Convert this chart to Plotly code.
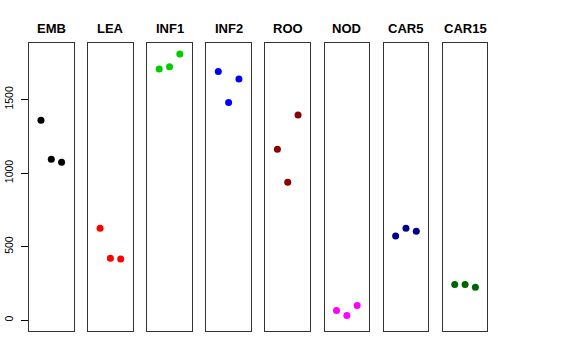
import plotly.graph_objects as go

groups = ["EMB", "LEA", "INF1", "INF2", "ROO", "NOD", "CAR5", "CAR15"]
colors = ["#000000", "#FF0000", "#00CD00", "#0000FF", "#8B0000", "#FF00FF", "#00008B", "#006400"]
replicate = [1, 2, 3]
emb = [1359, 1094, 1074]
lea = [625, 421, 417]
inf1 = [1708, 1722, 1810]
inf2 = [1690, 1480, 1640]
roo = [1162, 938, 1395]
nod = [66, 32, 100]
car5 = [573, 625, 605]
car15 = [243, 243, 224]
values = [emb, lea, inf1, inf2, roo, nod, car5, car15]
y_ticks = [0, 500, 1000, 1500]

W, H = 576, 360
ml, mr, mt, mb = 29, 87.7, 43.3, 29.3
pw = W - ml - mr
ph = H - mt - mb
step, width = 59.15, 44.6

fig = go.Figure()
layout = dict(
    width=W, height=H, autosize=False,
    margin=dict(l=ml, r=mr, t=mt, b=mb, pad=0),
    paper_bgcolor="white", plot_bgcolor="white",
    showlegend=False,
    font=dict(family="Liberation Sans, Arial, sans-serif", color="black"),
    yaxis=dict(range=[-73, 1884], tickvals=y_ticks, ticks="outside", ticklen=7,
               tickwidth=1, tickcolor="black", tickangle=-90, showgrid=False,
               zeroline=False, showline=True, linecolor="#333333", linewidth=1,
               mirror=True, tickfont=dict(size=10.5, color="black"),
               ticklabelstandoff=4, anchor="x", automargin=False),
)
annotations = []
for i, (g, c, v) in enumerate(zip(groups, colors, values)):
    xname = "x" if i == 0 else f"x{i+1}"
    axkey = "xaxis" if i == 0 else f"xaxis{i+1}"
    left = (step * i) / pw
    right = (step * i + width) / pw
    layout[axkey] = dict(domain=[left, min(right, 1)], range=[-0.16, 4.16],
                         showticklabels=False, ticks="", showgrid=False,
                         zeroline=False, showline=True, mirror=True,
                         linecolor="#333333", linewidth=1, anchor="y",
                         automargin=False)
    if i > 0:
        layout[f"yaxis{i+1}"] = dict(range=[-73, 1884], overlaying="y", anchor=xname,
                                     showticklabels=False, ticks="", showgrid=False,
                                     zeroline=False, showline=True, mirror=True,
                                     linecolor="#333333", linewidth=1, visible=True,
                                     automargin=False)
    yname = "y" if i == 0 else f"y{i+1}"
    fig.add_trace(go.Scatter(x=replicate, y=v, mode="markers",
                             marker=dict(color=c, size=7),
                             xaxis=xname, yaxis=yname, cliponaxis=False))
    annotations.append(dict(text=f"<b>{g}</b>", x=(left + right) / 2, y=1 + (mt - 29) / ph,
                            xref="paper", yref="paper", showarrow=False,
                            xanchor="center", yanchor="middle",
                            font=dict(size=13, color="black")))
layout["annotations"] = annotations
fig.update_layout(**layout)
fig.write_html("out.html", config={"displayModeBar": False},
               post_script="document.body.style.margin='0';document.body.style.overflow='hidden';")
